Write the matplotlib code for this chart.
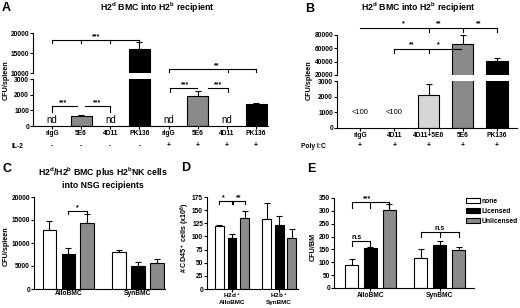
import matplotlib
matplotlib.use('Agg')
import matplotlib.pyplot as plt
import matplotlib.transforms as mtransforms
import numpy as np

plt.rcParams['font.family'] = ['Liberation Sans', 'DejaVu Sans']
plt.rcParams['font.weight'] = 'bold'
plt.rcParams['mathtext.fontset'] = 'custom'
plt.rcParams['mathtext.rm'] = 'Liberation Sans:bold'
plt.rcParams['mathtext.bf'] = 'Liberation Sans:bold'
plt.rcParams['mathtext.default'] = 'bf'

# panel A
a_labels = ['rIgG', '5E6', '4D11', 'PK136', 'rIgG', '5E6', '4D11', 'PK136']
a_il2 = ['-', '-', '-', '-', '+', '+', '+', '+']
a_vals = [0, 650, 0, 16000, 0, 1900, 0, 1400]
a_err = [0, 30, 0, 1700, 0, 330, 0, 60]

# panel B
b_labels = ['rIgG', '4D11', '4D11+5E6', '5E6', 'PK136']
b_polyic = ['+', '+', '+', '+', '+']
b_vals = [0, 0, 2100, 66000, 40500]
b_err = [0, 0, 700, 14000, 5500]

# panels C-E (none / Licensed / Unlicensed)
series_names = ['none', 'Licensed', 'Unlicensed']
c_groups = ['AlloBMC', 'SynBMC']
c_none, c_none_err = [12800, 8000], [2000, 500]
c_lic, c_lic_err = [7600, 5000], [1300, 850]
c_unl, c_unl_err = [14300, 5600], [2100, 900]

d_groups = ['H2d$^+$\nAlloBMC', 'H2b$^+$\nSynBMC']
d_none, d_none_err = [120, 133], [1, 30]
d_lic, d_lic_err = [97, 122], [8, 17]
d_unl, d_unl_err = [135, 97], [13, 17]

e_groups = ['AlloBMC', 'SynBMC']
e_none, e_none_err = [90, 115], [22, 35]
e_lic, e_lic_err = [155, 167], [5, 16]
e_unl, e_unl_err = [305, 148], [20, 12]

W, H = 520, 308
fig = plt.figure(figsize=(5.2, 3.08), dpi=100)
pix = mtransforms.Affine2D().scale(1 / W, -1 / H).translate(0, 1) + fig.transFigure
LW = 0.8
FS = 4.8


def px_axes(x0, y0, x1, y1):
    ax = fig.add_axes([x0 / W, 1 - y1 / H, (x1 - x0) / W, (y1 - y0) / H])
    ax.spines[['top', 'right']].set_visible(False)
    for s in ax.spines.values():
        s.set_linewidth(LW)
    ax.tick_params(direction='out', length=2, width=LW, labelsize=FS, pad=0.8)
    ax.patch.set_alpha(0)
    return ax


def bars(ax, xs, vals, err, width, colors):
    xs = np.asarray(xs, float)
    vals = np.asarray(vals, float)
    err = np.asarray(err, float)
    m = vals > 0
    ax.bar(xs[m], vals[m], width, color=np.array(colors)[m], edgecolor='black', lw=LW, zorder=2)
    ax.errorbar(xs[m], vals[m], yerr=[np.zeros(m.sum()), err[m]], fmt='none',
                ecolor='black', elinewidth=LW, capsize=2.2, capthick=LW, zorder=1)


def bracket(ax, x0, x1, y, ticks, drop, stars=None, sx=None, fs=5):
    ax.plot([x0, x1], [y, y], color='black', lw=LW, clip_on=False, zorder=3)
    for t in ticks:
        ax.plot([t, t], [y, y - drop], color='black', lw=LW, clip_on=False, zorder=3)
    if stars:
        ax.text(sx, y, stars, ha='center', va='bottom', fontsize=fs, clip_on=False)


def ylab(x, y, s, fs=5.2):
    fig.text(x, y, s, transform=pix, rotation=90, ha='center', va='center', fontsize=fs)


# ---------------- A ----------------
xa = np.arange(len(a_labels))
a_cols = ['white', '#8a8a8a', 'white', 'black', 'white', '#8a8a8a', 'white', 'black']
a_up = px_axes(33, 33, 268, 73)
a_lo = px_axes(33, 79, 268, 126)
for ax in (a_up, a_lo):
    bars(ax, xa, a_vals, a_err, 0.72, a_cols)
    ax.set_xlim(-0.652, 7.41)
a_up.set_ylim(10000, 20000)
a_up.set_yticks([10000, 15000, 20000])
a_up.spines['bottom'].set_visible(False)
a_up.set_xticks([])
a_lo.set_ylim(0, 3000)
a_lo.set_yticks([0, 1000, 2000, 3000])
a_lo.set_xticks(xa)
a_lo.set_xticklabels(a_labels)
for i, v in enumerate(a_vals):
    if v == 0:
        a_lo.text(i, 40, 'nd', ha='center', va='bottom', fontsize=7, fontweight='normal')
ta = mtransforms.blended_transform_factory(a_lo.transData, pix)
for i, s in enumerate(a_il2):
    fig.text(i, 146, s, transform=ta, ha='center', va='center', fontsize=FS)
fig.text(17, 146, 'IL-2', transform=pix, ha='center', va='center', fontsize=FS)
bracket(a_up, 0, 3, 18300, [0, 1, 2, 3], 700, '***', 1.5)
bracket(a_up, 4, 7, 11000, [4, 6.05, 7], 700, '**', 5.65)
bracket(a_lo, 0, 0.86, 1250, [0], 350, '***', 0.38)
bracket(a_lo, 1.13, 2, 1250, [2], 350, '***', 1.54)
bracket(a_lo, 4.05, 4.98, 2420, [4.05], 280, '***', 4.56)
bracket(a_lo, 5.35, 6.04, 2420, [6.04], 280, '***', 5.7)
ylab(6, 80, 'CFU/spleen')
fig.text(157, 8, 'H2$^d$ BMC into H2$^b$ recipient', transform=pix, ha='center', va='center', fontsize=6.3)
fig.text(6, 8, 'A', transform=pix, ha='center', va='center', fontsize=9)

# ---------------- B ----------------
xb = np.arange(len(b_labels))
b_cols = ['white', 'white', '#d6d6d6', '#8a8a8a', 'black']
b_up = px_axes(337, 35, 517, 75)
b_lo = px_axes(337, 81, 517, 128)
for ax in (b_up, b_lo):
    bars(ax, xb, b_vals, b_err, 0.62, b_cols)
    ax.set_xlim(-0.67, 4.58)
b_up.set_ylim(20000, 80000)
b_up.set_yticks([20000, 40000, 60000, 80000])
b_up.spines['bottom'].set_visible(False)
b_up.set_xticks([])
b_lo.set_ylim(0, 3000)
b_lo.set_yticks([0, 1000, 2000, 3000])
b_lo.set_xticks(xb)
b_lo.set_xticklabels(b_labels)
for i, v in enumerate(b_vals):
    if v == 0:
        b_lo.text(i, 1000, '<100', ha='center', va='center', fontsize=5.5, fontweight='normal')
tb = mtransforms.blended_transform_factory(b_lo.transData, pix)
for i, s in enumerate(b_polyic):
    fig.text(i, 146, s, transform=tb, ha='center', va='center', fontsize=FS)
fig.text(313, 146, 'Poly I:C', transform=pix, ha='center', va='center', fontsize=FS)
bracket(b_up, 0, 4, 90500, [2, 3, 4], 6500)
for sx, st in [(1.26, '*'), (2.3, '**'), (3.45, '**')]:
    b_up.text(sx, 91500, st, ha='center', va='bottom', fontsize=5)
bracket(b_up, 1, 2.95, 59000, [1, 2], 6500)
for sx, st in [(1.52, '**'), (2.3, '*')]:
    b_up.text(sx, 60000, st, ha='center', va='bottom', fontsize=5)
ylab(309, 80, 'CFU/spleen')
fig.text(418, 8, 'H2$^d$ BMC into H2$^b$ recipient', transform=pix, ha='center', va='center', fontsize=6.3)
fig.text(310, 9, 'B', transform=pix, ha='center', va='center', fontsize=9)

grp_cols = ['white', 'black', '#8a8a8a']

# ---------------- C ----------------
c_ax = px_axes(34, 197, 165, 289)
for k, (v, e) in enumerate([(c_none, c_none_err), (c_lic, c_lic_err), (c_unl, c_unl_err)]):
    bars(c_ax, np.arange(2) + (k - 1) * 0.273, v, e, 0.2, [grp_cols[k]] * 2)
c_ax.set_xlim(-0.496, 1.39)
c_ax.set_ylim(0, 20000)
c_ax.set_yticks([0, 5000, 10000, 15000, 20000])
c_ax.set_xticks(np.arange(2))
c_ax.set_xticklabels(c_groups)
c_ax.tick_params(axis='x', length=0)
bracket(c_ax, 0, 0.273, 17000, [0, 0.273], 700, '*', 0.13)
ylab(6, 246, 'CFU/spleen')
fig.text(103, 173, 'H2$^d$/H2$^b$ BMC plus H2$^b$NK cells', transform=pix, ha='center', va='center', fontsize=6.3)
fig.text(103, 186, 'into NSG recipients', transform=pix, ha='center', va='center', fontsize=6.3)
fig.text(7, 169, 'C', transform=pix, ha='center', va='center', fontsize=9)

# ---------------- D ----------------
d_ax = px_axes(207, 197, 298, 289)
for k, (v, e) in enumerate([(d_none, d_none_err), (d_lic, d_lic_err), (d_unl, d_unl_err)]):
    bars(d_ax, np.arange(2) + (k - 1) * 0.266, v, e, 0.19, [grp_cols[k]] * 2)
d_ax.set_xlim(-0.53, 1.40)
d_ax.set_ylim(0, 175)
d_ax.set_yticks(np.arange(0, 176, 25))
d_ax.set_xticks(np.arange(2))
d_ax.set_xticklabels(d_groups, linespacing=0.95, fontsize=4.6)
d_ax.tick_params(axis='x', length=2, pad=0.3)
bracket(d_ax, -0.266, -0.01, 167, [-0.266, -0.01], 5, '*', -0.19)
bracket(d_ax, 0.03, 0.266, 167, [0.03, 0.266], 5, '**', 0.15)
ylab(185, 238, '# CD45$^+$ cells (x10$^6$)', fs=5.1)
fig.text(186, 168, 'D', transform=pix, ha='center', va='center', fontsize=9)

# ---------------- E ----------------
e_ax = px_axes(334, 198, 474, 288)
for k, (v, e) in enumerate([(e_none, e_none_err), (e_lic, e_lic_err), (e_unl, e_unl_err)]):
    bars(e_ax, np.arange(2) + (k - 1) * 0.273, v, e, 0.187, [grp_cols[k]] * 2)
e_ax.set_xlim(-0.525, 1.49)
e_ax.set_ylim(0, 350)
e_ax.set_yticks(np.arange(0, 351, 50))
e_ax.set_xticks(np.arange(2))
e_ax.set_xticklabels(e_groups)
bracket(e_ax, -0.273, 0.273, 335, [-0.273, 0, 0.273], 25, '***', -0.05)
bracket(e_ax, -0.273, 0, 183, [-0.273, 0], 20, 'n.s', -0.2)
bracket(e_ax, 0.727, 1.273, 218, [0.727, 1, 1.273], 20, 'n.s', 1.0)
handles = [plt.Rectangle((0, 0), 1, 1, facecolor=c, edgecolor='black', lw=LW) for c in grp_cols]
e_ax.legend(handles, series_names, loc='upper left', bbox_to_anchor=(466, 198),
            bbox_transform=pix, frameon=False, fontsize=4.9, handlelength=2.0,
            handleheight=0.65, labelspacing=0.45, handletextpad=0.25,
            borderpad=0, borderaxespad=0)
ylab(313, 247, 'CFU/BM')
fig.text(311, 169, 'E', transform=pix, ha='center', va='center', fontsize=9)

fig.savefig('out.png', dpi=100)
